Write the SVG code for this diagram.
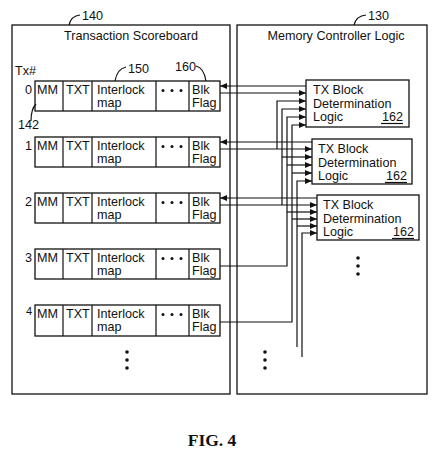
<svg xmlns="http://www.w3.org/2000/svg" width="433" height="451" viewBox="0 0 433 451">
<style>
text{font-family:"Liberation Sans",Arial,Helvetica,sans-serif;font-size:12.6px;fill:#111}
.box{fill:none;stroke:#111;stroke-width:1.3}
.ln{fill:none;stroke:#111;stroke-width:1.2}
.dot{fill:#111}
.fig{font-family:"Liberation Serif","Times New Roman",serif;font-weight:bold;font-size:17.5px}
</style>
<defs>
<marker id="ah" markerUnits="userSpaceOnUse" markerWidth="8" markerHeight="6" refX="7" refY="3" orient="auto">
<path d="M0,0 L7,3 L0,6 z" fill="#111"/>
</marker>
</defs>
<rect width="433" height="451" fill="#fff"/>

<g id="scoreboard">
<rect class="box" x="12" y="25" width="218" height="369"/>
<text x="131" y="40" text-anchor="middle">Transaction Scoreboard</text>
<text x="82" y="20">140</text>
<path class="ln" d="M69 25 Q71 16 80 15"/>
<text x="15" y="75">Tx#</text>
<text x="18" y="129">142</text>
<path class="ln" d="M36 104 Q31 109 31 121"/>
<text x="128" y="73">150</text>
<path class="ln" d="M115 81 Q117 69 126 67"/>
<text x="175" y="71">160</text>
<path class="ln" d="M196 66 Q204 68 206 81"/>
<circle class="dot" cx="127" cy="352" r="1.8"/>
<circle class="dot" cx="127" cy="360" r="1.8"/>
<circle class="dot" cx="127" cy="368" r="1.8"/>
</g>

<g id="row0">
<text x="32" y="94" text-anchor="end">0</text>
<rect class="box" x="35" y="81" width="185" height="30"/>
<path class="ln" d="M63 81V111M92 81V111M156 81V111M189 81V111"/>
<text x="37" y="94">MM</text><text x="66" y="94">TXT</text>
<text x="97" y="94">Interlock</text><text x="97" y="107">map</text>
<circle class="dot" cx="163" cy="90.5" r="1.5"/><circle class="dot" cx="172" cy="90.5" r="1.5"/><circle class="dot" cx="181" cy="90.5" r="1.5"/>
<text x="192" y="94">Blk</text><text x="192" y="107">Flag</text>
</g>

<g id="row1">
<text x="32" y="150" text-anchor="end">1</text>
<rect class="box" x="35" y="137" width="185" height="30"/>
<path class="ln" d="M63 137V167M92 137V167M156 137V167M189 137V167"/>
<text x="37" y="150">MM</text><text x="66" y="150">TXT</text>
<text x="97" y="150">Interlock</text><text x="97" y="163">map</text>
<circle class="dot" cx="163" cy="146.5" r="1.5"/><circle class="dot" cx="172" cy="146.5" r="1.5"/><circle class="dot" cx="181" cy="146.5" r="1.5"/>
<text x="192" y="150">Blk</text><text x="192" y="163">Flag</text>
</g>

<g id="row2">
<text x="32" y="206" text-anchor="end">2</text>
<rect class="box" x="35" y="193" width="185" height="30"/>
<path class="ln" d="M63 193V223M92 193V223M156 193V223M189 193V223"/>
<text x="37" y="206">MM</text><text x="66" y="206">TXT</text>
<text x="97" y="206">Interlock</text><text x="97" y="219">map</text>
<circle class="dot" cx="163" cy="202.5" r="1.5"/><circle class="dot" cx="172" cy="202.5" r="1.5"/><circle class="dot" cx="181" cy="202.5" r="1.5"/>
<text x="192" y="206">Blk</text><text x="192" y="219">Flag</text>
</g>

<g id="row3">
<text x="32" y="262" text-anchor="end">3</text>
<rect class="box" x="35" y="249" width="185" height="30"/>
<path class="ln" d="M63 249V279M92 249V279M156 249V279M189 249V279"/>
<text x="37" y="262">MM</text><text x="66" y="262">TXT</text>
<text x="97" y="262">Interlock</text><text x="97" y="275">map</text>
<circle class="dot" cx="163" cy="258.5" r="1.5"/><circle class="dot" cx="172" cy="258.5" r="1.5"/><circle class="dot" cx="181" cy="258.5" r="1.5"/>
<text x="192" y="262">Blk</text><text x="192" y="275">Flag</text>
</g>

<g id="row4">
<text x="32" y="315" text-anchor="end" style="font-size:11px">4</text>
<rect class="box" x="35" y="305" width="185" height="31"/>
<path class="ln" d="M63 305V336M92 305V336M156 305V336M189 305V336"/>
<text x="37" y="318">MM</text><text x="66" y="318">TXT</text>
<text x="97" y="318">Interlock</text><text x="97" y="331">map</text>
<circle class="dot" cx="163" cy="314.5" r="1.5"/><circle class="dot" cx="172" cy="314.5" r="1.5"/><circle class="dot" cx="181" cy="314.5" r="1.5"/>
<text x="192" y="318">Blk</text><text x="192" y="331">Flag</text>
</g>

<g id="memory-controller">
<rect class="box" x="237" y="25" width="190" height="369"/>
<text x="336" y="40" text-anchor="middle">Memory Controller Logic</text>
<text x="368" y="20">130</text>
<path class="ln" d="M354 25 Q356 16 366 15"/>
<circle class="dot" cx="265" cy="352" r="1.8"/>
<circle class="dot" cx="265" cy="360" r="1.8"/>
<circle class="dot" cx="265" cy="368" r="1.8"/>
</g>

<g id="tx-block-0">
<rect class="box" x="306" y="80" width="103" height="47"/>
<text x="313" y="94">TX Block</text>
<text x="313" y="107.5">Determination</text>
<text x="313" y="121">Logic</text>
<text x="403" y="121" text-anchor="end">162</text>
<path class="ln" d="M381 123.5H403"/>
</g>

<g id="tx-block-1">
<rect class="box" x="312" y="139" width="100" height="45"/>
<text x="318" y="153">TX Block</text>
<text x="318" y="166.5">Determination</text>
<text x="318" y="180">Logic</text>
<text x="407" y="180" text-anchor="end">162</text>
<path class="ln" d="M385 182.5H407"/>
</g>

<g id="tx-block-2">
<rect class="box" x="317" y="195" width="102" height="45"/>
<text x="323" y="209">TX Block</text>
<text x="323" y="222.5">Determination</text>
<text x="323" y="236">Logic</text>
<text x="414" y="236" text-anchor="end">162</text>
<path class="ln" d="M392 238.5H414"/>
<circle class="dot" cx="358" cy="258" r="1.8"/>
<circle class="dot" cx="358" cy="266" r="1.8"/>
<circle class="dot" cx="358" cy="274" r="1.8"/>
</g>

<g id="connectors">
<path class="ln" marker-end="url(#ah)" d="M306 86H220"/>
<path class="ln" marker-end="url(#ah)" d="M220 93H306"/>
<path class="ln" marker-end="url(#ah)" d="M312 142H220"/>
<path class="ln" marker-end="url(#ah)" d="M220 149H312"/>
<path class="ln" marker-end="url(#ah)" d="M317 198H220"/>
<path class="ln" marker-end="url(#ah)" d="M220 205H317"/>
<path class="ln" marker-end="url(#ah)" d="M277 149V101H306"/>
<path class="ln" marker-end="url(#ah)" d="M282 205V109H306"/>
<path class="ln" marker-end="url(#ah)" d="M220 266H287V117H306"/>
<path class="ln" marker-end="url(#ah)" d="M220 322H292V125H306"/>
<path class="ln" marker-end="url(#ah)" d="M282 157H312"/>
<path class="ln" marker-end="url(#ah)" d="M287 165H312"/>
<path class="ln" marker-end="url(#ah)" d="M292 173H312"/>
<path class="ln" marker-end="url(#ah)" d="M297 347V181H312"/>
<path class="ln" marker-end="url(#ah)" d="M287 212H317"/>
<path class="ln" marker-end="url(#ah)" d="M292 219H317"/>
<path class="ln" marker-end="url(#ah)" d="M297 226H317"/>
<path class="ln" marker-end="url(#ah)" d="M302 357V233H317"/>
</g>

<text class="fig" x="212" y="446" text-anchor="middle">FIG. 4</text>
</svg>
